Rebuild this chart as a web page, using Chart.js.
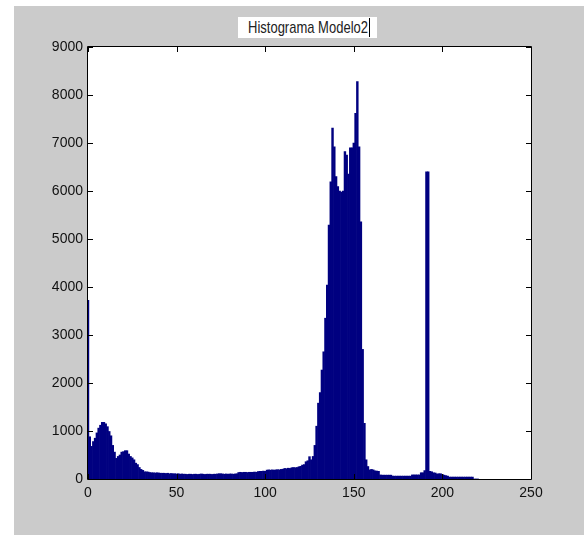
<!DOCTYPE html>
<html>
<head>
<meta charset="utf-8">
<script src="https://cdn.jsdelivr.net/npm/chart.js@4/dist/chart.umd.min.js"></script>
<style>
  html, body { margin: 0; padding: 0; background: #ffffff; }
  #wrap { position: relative; width: 584px; height: 535px; }
  #titleBox {
    position: absolute; left: 238px; top: 17px; width: 139px; height: 21px;
    background: #ffffff; font-family: 'Liberation Sans', Arial, sans-serif;
    font-size: 17px; line-height: 21px; color: #222222; white-space: nowrap;
  }
  #titleBox span.txt { position: absolute; left: 10px; top: 0; transform: scaleX(0.765); transform-origin: left center; }
  #titleBox span.cur { position: absolute; left: 131px; top: 1px; width: 1px; height: 19px; background: #000000; }
</style>
</head>
<body>
<div id="wrap">
  <canvas id="myChartHist" width="584" height="535"></canvas>
  <div id="titleBox"><span class="txt">Histograma Modelo2</span><span class="cur"></span></div>
</div>
<script>
// histogram counts, one value per grey level starting at 0
const counts = [
  3720, 880, 680, 780, 850, 960, 1060, 1120, 1180, 1180,       // 0-9
  1150, 1090, 990, 900, 700, 560, 430, 470, 500, 560,          // 10-19
  570, 590, 590, 520, 470, 440, 400, 330, 300, 240,            // 20-29
  200, 180, 150, 150, 145, 135, 130, 130, 125, 130,            // 30-39
  125, 120, 120, 120, 115, 120, 110, 115, 110, 110,            // 40-49
  105, 110, 100, 105, 100, 100, 95, 100, 100, 95,              // 50-59
  100, 100, 95, 100, 105, 100, 95, 100, 100, 100,              // 60-69
  95, 100, 100, 105, 110, 110, 105, 100, 105, 100,             // 70-79
  105, 105, 100, 105, 110, 135, 140, 135, 140, 140,            // 80-89
  135, 140, 140, 140, 145, 140, 155, 160, 160, 165,            // 90-99
  160, 185, 190, 185, 190, 185, 190, 195, 190, 200,            // 100-109
  205, 220, 215, 225, 220, 235, 240, 235, 240, 255,            // 110-119
  265, 290, 300, 360, 380, 465, 400, 470, 700, 1100,           // 120-129
  1580, 1800, 2270, 2650, 3350, 4040, 5290, 6190, 7310, 6920,  // 130-139
  6300, 6090, 6000, 5980, 6000, 6820, 6750, 6350, 6900, 6900,  // 140-149
  7000, 7620, 8280, 6920, 5360, 2700, 1160, 400, 260, 190,     // 150-159
  200, 190, 170, 165, 160, 85, 80, 80, 80, 80,                 // 160-169
  80, 80, 60, 60, 60, 60, 60, 60, 60, 60,                      // 170-179
  60, 60, 60, 85, 85, 85, 85, 85, 130, 130,                    // 180-189
  175, 6400, 6400, 160, 150, 130, 125, 105, 110, 110,          // 190-199
  95, 80, 70, 60, 40, 40, 40, 40, 40, 40,                      // 200-209
  40, 40, 40, 40, 40, 40, 40, 40, 0, 0, 0                      // 210-220
];

const xTicks = [0, 50, 100, 150, 200, 250];
const yTicks = [0, 1000, 2000, 3000, 4000, 5000, 6000, 7000, 8000, 9000];

// setup data block
const points = counts.map((v, i) => ({ x: i, y: v }));

const tickFont = { family: "'Liberation Sans', Arial, sans-serif", size: 14 };

// grey figure, white axes and inward ticks like the original figure window
const frame = {
  id: 'frame',
  beforeDraw(chart) {
    const ctx = chart.ctx;
    const a = chart.chartArea;
    ctx.save();
    ctx.fillStyle = '#ffffff';
    ctx.fillRect(0, 0, chart.width, chart.height);
    ctx.fillStyle = '#cbcbcb';
    ctx.fillRect(14, 6, chart.width - 14, chart.height - 6);
    ctx.fillStyle = '#ffffff';
    ctx.fillRect(a.left, a.top, a.right - a.left, a.bottom - a.top);
    ctx.restore();
  },
  afterDraw(chart) {
    const ctx = chart.ctx;
    const a = chart.chartArea;
    const xs = chart.scales.x;
    const ys = chart.scales.y;
    ctx.save();
    ctx.strokeStyle = '#000000';
    ctx.lineWidth = 1;
    ctx.beginPath();
    ctx.rect(Math.round(a.left) - 0.5, Math.round(a.top) - 0.5,
             Math.round(a.right - a.left) + 1, Math.round(a.bottom - a.top) + 1);
    xTicks.forEach(t => {
      const px = Math.round(xs.getPixelForValue(t)) + 0.5;
      ctx.moveTo(px, a.bottom); ctx.lineTo(px, a.bottom - 5);
      ctx.moveTo(px, a.top); ctx.lineTo(px, a.top + 5);
    });
    yTicks.forEach(t => {
      const py = Math.round(ys.getPixelForValue(t)) + 0.5;
      ctx.moveTo(a.left, py); ctx.lineTo(a.left + 5, py);
      ctx.moveTo(a.right, py); ctx.lineTo(a.right - 5, py);
    });
    ctx.stroke();
    ctx.restore();
  }
};

// config block
const config = {
  type: 'bar',
  data: {
    datasets: [{
      label: 'Histograma Modelo2',
      data: points,
      backgroundColor: '#000080',
      borderWidth: 0,
      barPercentage: 1.0,
      categoryPercentage: 1.0,
    }],
  },
  options: {
    responsive: false,
    animation: false,
    layout: { padding: { left: 0, top: 47, right: 53, bottom: 0 } },
    plugins: { legend: { display: false }, tooltip: { enabled: false }, title: { display: false } },
    scales: {
      x: {
        type: 'linear',
        min: 0,
        max: 250,
        offset: false,
        grid: { display: false, drawTicks: false },
        border: { display: false },
        ticks: { stepSize: 50, color: '#111111', font: tickFont, padding: 6, maxRotation: 0,
                 callback: (v) => String(v) },
        afterFit: (scale) => { scale.height = 56; },
      },
      y: {
        min: 0,
        max: 9000,
        beginAtZero: true,
        grid: { display: false, drawTicks: false },
        border: { display: false },
        ticks: { stepSize: 1000, color: '#111111', font: tickFont, padding: 5,
                 callback: (v) => String(v) },
        afterFit: (scale) => { scale.width = 88; },
      },
    },
  },
  plugins: [frame],
};

// render block
const myChart = new Chart(document.getElementById('myChartHist'), config);
</script>
</body>
</html>
